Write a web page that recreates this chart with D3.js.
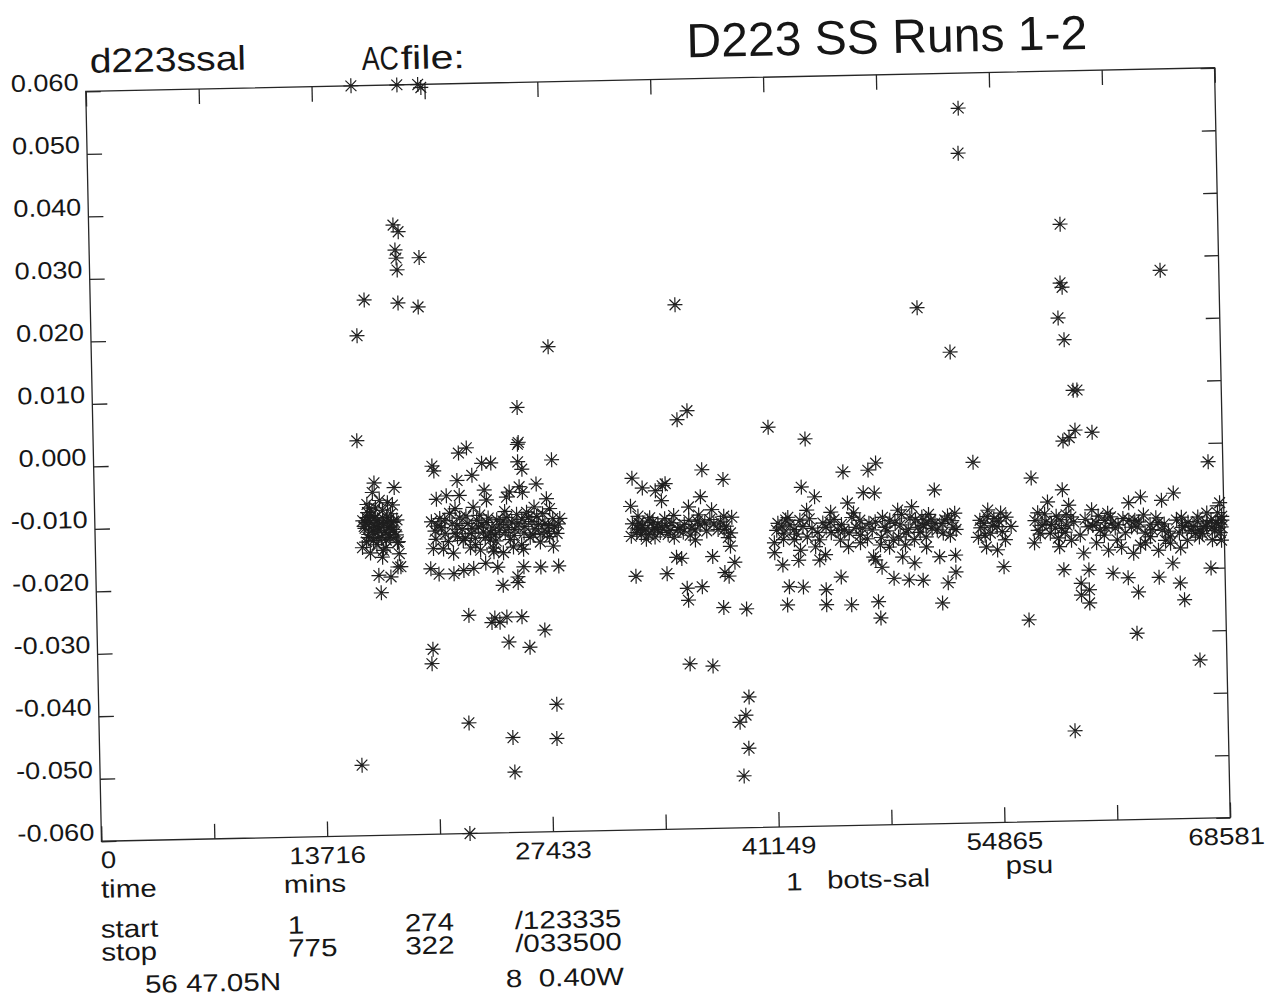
<!DOCTYPE html>
<html>
<head>
<meta charset="utf-8">
<script src="https://cdn.jsdelivr.net/npm/d3@7"></script>
<style>
  html, body { margin: 0; padding: 0; background: #fff; }
  svg { display: block; }
  text { font-family: "Liberation Sans", Arial, Helvetica, sans-serif; fill: #161616; white-space: pre; }
</style>
</head>
<body>
<svg id="chart" width="1282" height="1005"></svg>
<script>
// ---- data: bottle-minus-sensor salinity (psu) against elapsed time (mins) ----
const timeMax = 68581;
const xLabelValues = [0, 13716, 27433, 41149, 54865, 68581];
const yTickValues = [-0.06, -0.05, -0.04, -0.03, -0.02, -0.01, 0, 0.01, 0.02, 0.03, 0.04, 0.05, 0.06];

const burstA = [
  [16110,0.0600],[18900,0.0600],[20170,0.0600],[20350,0.0595],
  [18490,0.0376],[18790,0.0365],[18580,0.0336],[18630,0.0323],[18680,0.0304],[18690,0.0251],
  [20030,0.0323],[19910,0.0244],[16640,0.0257],[16160,0.0200],[16020,0.0032],[15920,-0.0487],
  [17010,-0.0036],[18220,-0.0044],[16890,-0.0051],[17310,-0.0064],[18100,-0.0072],[16700,-0.0076],
  [17490,-0.0080],[16520,-0.0091],[17010,-0.0092],[17740,-0.0091],[18350,-0.0096],[16700,-0.0100],
  [17310,-0.0104],[17920,-0.0107],[16400,-0.0108],[17010,-0.0115],[17620,-0.0116],[18220,-0.0115],
  [16580,-0.0123],[17190,-0.0124],[17920,-0.0124],[18410,-0.0131],[16220,-0.0139],[16700,-0.0148],
  [17490,-0.0144],[18350,-0.0132],[17430,-0.0155],[18350,-0.0171],[17190,-0.0184],[17920,-0.0187],
  [17310,-0.0212],[18530,-0.0171],[16830,-0.0088],[17740,-0.0099],[17130,-0.0107],[18040,-0.0100],
  [16280,-0.0096],[16580,-0.0083],[17190,-0.0096],[17800,-0.0108],[16830,-0.0111],[17490,-0.0092],
  [18100,-0.0111],[16460,-0.0099],[17070,-0.0076],[17680,-0.0128],
  [16350,-0.0105],[16620,-0.0118],[16950,-0.0102],[17250,-0.0113],[17550,-0.0101],[17860,-0.0119],
  [18150,-0.0098],[16480,-0.0130],[16900,-0.0128],[17400,-0.0124],[17980,-0.0086],[16750,-0.0090],
  [17650,-0.0140],[18300,-0.0120],[17100,-0.0135],[16550,-0.0070],[17800,-0.0068],[18450,-0.0150]
];

const burstB = [
  [20650,-0.0019],[22170,0.0009],[22660,0.0017],[23570,-0.0008],[24120,-0.0008],[25760,0.0021],
  [25760,-0.0007],[26000,-0.0019],[27820,-0.0005],[22960,-0.0027],[22050,-0.0035],[23690,-0.0051],
  [25210,-0.0055],[25820,-0.0047],[26850,-0.0043],[20770,-0.0064],[21380,-0.0059],[22170,-0.0059],
  [23810,-0.0067],[25030,-0.0063],[26000,-0.0056],[27460,-0.0067],
  [20960,-0.0095],[21560,-0.0087],[22170,-0.0095],[22660,-0.0104],[23200,-0.0099],[23810,-0.0103],
  [24420,-0.0099],[25030,-0.0096],[25630,-0.0091],[26240,-0.0088],[26850,-0.0095],[27820,-0.0099],
  [28250,-0.0099],[20650,-0.0115],[21260,-0.0120],[21870,-0.0119],[22480,-0.0127],[23080,-0.0128],
  [23690,-0.0127],[24300,-0.0123],[24910,-0.0120],[25510,-0.0115],[26120,-0.0111],[26730,-0.0115],
  [27460,-0.0120],[28060,-0.0123],[20530,-0.0143],[21140,-0.0144],[21750,-0.0151],[22780,-0.0143],
  [23390,-0.0147],[24180,-0.0144],[24780,-0.0152],[25390,-0.0143],[26000,-0.0147],[27030,-0.0136],
  [27820,-0.0143],[20350,-0.0175],[20840,-0.0184],[21750,-0.0184],[22350,-0.0179],[22960,-0.0176],
  [23690,-0.0168],[24420,-0.0175],[25630,-0.0191],[26000,-0.0175],[27030,-0.0176],[28120,-0.0175],
  [24720,-0.0204],[25630,-0.0200],[22600,-0.0251],[24180,-0.0256],[24910,-0.0255],[25820,-0.0255],
  [23990,-0.0263],[24480,-0.0263],
  [20380,-0.0304],[20300,-0.0327],[22470,-0.0423],[25000,-0.0295],[26270,-0.0304],[27200,-0.0277],
  [25120,-0.0448],[25200,-0.0503],[27830,-0.0396],[27790,-0.0451],[22390,-0.0600],[25790,0.0080],
  [27750,0.0176],[25820,0.0024],[20550,-0.0011],
  [21260,-0.0099],[21990,-0.0107],[22900,-0.0112],[23510,-0.0107],[24120,-0.0112],[24600,-0.0107],
  [25330,-0.0103],[25940,-0.0099],[26550,-0.0103],[27210,-0.0091],[27640,-0.0083],[22350,-0.0131],
  [23990,-0.0131],[25210,-0.0131],[26420,-0.0128],[27340,-0.0107],[20840,-0.0107],[23390,-0.0091],
  [24910,-0.0086],
  [20450,-0.0100],[20700,-0.0128],[21050,-0.0110],[21450,-0.0132],[21700,-0.0104],[22000,-0.0125],
  [22300,-0.0113],[22550,-0.0092],[22850,-0.0120],[23100,-0.0138],[23300,-0.0110],[23600,-0.0118],
  [23900,-0.0096],[24050,-0.0120],[24350,-0.0133],[24550,-0.0116],[24800,-0.0101],[25100,-0.0112],
  [25450,-0.0125],[25700,-0.0106],[26050,-0.0121],[26350,-0.0096],[26600,-0.0124],[26950,-0.0108],
  [27150,-0.0122],[27550,-0.0110],[27900,-0.0113],[28150,-0.0108],[24200,-0.0150],[25900,-0.0140],
  [21900,-0.0080],[23000,-0.0078],[26700,-0.0080],[27600,-0.0128]
];

const burstC = [
  [32680,-0.0037],[33290,-0.0053],[34690,-0.0047],[36930,-0.0026],[38210,-0.0042],[32560,-0.0082],
  [34440,-0.0074],[36080,-0.0085],[36810,-0.0069],[33050,-0.0109],[33590,-0.0106],[33960,-0.0117],
  [34690,-0.0114],[35170,-0.0098],[36080,-0.0106],[36690,-0.0098],[37480,-0.0090],[38210,-0.0101],
  [38690,-0.0103],[32560,-0.0130],[33170,-0.0127],[33830,-0.0122],[35170,-0.0133],[35720,-0.0125],
  [36450,-0.0122],[37050,-0.0111],[38210,-0.0122],[38450,-0.0135],[35290,-0.0165],[36450,-0.0138],
  [37480,-0.0165],[38570,-0.0149],[38820,-0.0175],[32800,-0.0194],[34690,-0.0191],[35600,-0.0167],
  [36810,-0.0213],[35960,-0.0234],[38210,-0.0191],[38450,-0.0197],[38090,-0.0247],[39480,-0.0250],
  [32920,-0.0117],[34200,-0.0111],[33410,-0.0119],[34930,-0.0122],[33710,-0.0101],
  [35510,0.0239],[36110,0.0069],[35490,0.0055],[35970,-0.0336],[37360,-0.0340],[38930,-0.0431],
  [39510,-0.0391],[39300,-0.0420],[39440,-0.0473],[39110,-0.0517],[34080,-0.0058],[34510,-0.0050],
  [35900,-0.0215],
  [33110,-0.0119],[34320,-0.0125],[35540,-0.0117],[36140,-0.0130],[37360,-0.0106],[37840,-0.0122],
  [33470,-0.0135],[36750,-0.0114],[34620,-0.0103],
  [32650,-0.0110],[32900,-0.0124],[33250,-0.0113],[33600,-0.0128],[33900,-0.0108],[34150,-0.0120],
  [34450,-0.0116],[34800,-0.0128],[35050,-0.0110],[35400,-0.0121],[35800,-0.0113],[36250,-0.0119],
  [36600,-0.0108],[37150,-0.0124],[37600,-0.0113],[38000,-0.0110],[38350,-0.0117],[38600,-0.0128],
  [33000,-0.0098],[34000,-0.0132]
];

const burstD = [
  [42950,-0.0057],[43740,-0.0073],[45500,-0.0034],[47020,-0.0032],[47500,-0.0021],[51030,-0.0066],
  [41490,-0.0114],[41970,-0.0109],[43250,-0.0094],[44710,-0.0098],[45740,-0.0084],[46710,-0.0068],
  [47380,-0.0069],[48780,-0.0097],[49630,-0.0092],[50240,-0.0109],[50780,-0.0114],[52240,-0.0104],
  [41250,-0.0145],[41850,-0.0130],[42460,-0.0125],[43250,-0.0137],[43740,-0.0153],[44340,-0.0166],
  [44710,-0.0131],[45500,-0.0127],[46230,-0.0123],[47020,-0.0117],[47990,-0.0124],[48470,-0.0145],
  [49260,-0.0134],[49990,-0.0125],[50480,-0.0141],[51030,-0.0119],[52120,-0.0126],
  [41250,-0.0161],[41730,-0.0181],[42700,-0.0174],[43980,-0.0174],[45740,-0.0154],[46470,-0.0148],
  [47260,-0.0171],[48230,-0.0156],[49020,-0.0172],[49750,-0.0182],[50480,-0.0157],[51270,-0.0173],
  [52240,-0.0171],[42100,-0.0216],[42950,-0.0217],[44340,-0.0222],[45260,-0.0202],[47380,-0.0176],
  [47750,-0.0188],[48470,-0.0206],[49390,-0.0209],[50240,-0.0210],[51750,-0.0215],[52240,-0.0198],
  [41970,-0.0245],[44340,-0.0246],[45860,-0.0247],[47500,-0.0243],[47620,-0.0269],[51390,-0.0247],
  [41730,-0.0120],[42460,-0.0141],[44220,-0.0115],[45260,-0.0143],[45980,-0.0107],[47750,-0.0140],
  [49750,-0.0145],[50480,-0.0119],[51510,-0.0135],
  [41010,0.0040],[43240,0.0020],[50210,0.0226],[52160,0.0154],[52960,0.0544],[52900,0.0472],
  [53410,-0.0023],
  [42220,-0.0117],[42830,-0.0110],[43550,-0.0123],[44650,-0.0114],[45130,-0.0127],[46470,-0.0112],
  [47200,-0.0128],[48290,-0.0113],[48900,-0.0121],[49510,-0.0110],[50110,-0.0133],[50840,-0.0127],
  [51630,-0.0114],[51940,-0.0139],[47680,-0.0152],[42830,-0.0158],[46470,-0.0136],[49200,-0.0153],
  [41400,-0.0125],[41800,-0.0140],[42100,-0.0105],[42600,-0.0132],[43000,-0.0120],[43400,-0.0108],
  [43900,-0.0130],[44400,-0.0122],[44900,-0.0110],[45350,-0.0118],[45800,-0.0132],[46100,-0.0100],
  [46600,-0.0125],[46900,-0.0142],[47400,-0.0115],[47850,-0.0108],[48100,-0.0130],[48600,-0.0118],
  [49000,-0.0104],[49400,-0.0128],[49850,-0.0113],[50300,-0.0122],[50650,-0.0105],[51150,-0.0130],
  [51450,-0.0120],[51800,-0.0108],[52050,-0.0116],[52300,-0.0130],[48800,-0.0140],[44000,-0.0142]
];

const burstE = [
  [54250,-0.0100],[55030,-0.0105],[54000,-0.0121],[54790,-0.0127],[54370,-0.0137],[53640,-0.0143],
  [55280,-0.0148],[54120,-0.0159],[54790,-0.0164],[55160,-0.0191],[55640,-0.0127],[53760,-0.0116],
  [54610,-0.0114],[53800,-0.0128],[54200,-0.0110],[54500,-0.0125],[54900,-0.0118],[55350,-0.0112],
  [54050,-0.0140],[55100,-0.0135]
];

const burstF = [
  [56920,-0.0050],[58800,-0.0070],[57890,-0.0089],[59170,-0.0095],[57280,-0.0106],[57770,-0.0121],
  [58560,-0.0118],[59290,-0.0114],[57280,-0.0134],[58010,-0.0139],[58920,-0.0138],[57040,-0.0154],
  [58560,-0.0161],[59290,-0.0151],[58800,-0.0198],[56620,-0.0277],
  [60560,-0.0103],[61530,-0.0109],[62810,-0.0093],[63540,-0.0084],[64810,-0.0090],[65540,-0.0079],
  [67550,-0.0112],[68340,-0.0096],[68400,-0.0156],[60320,-0.0130],[61050,-0.0136],[61780,-0.0125],
  [62570,-0.0141],[63300,-0.0132],[64090,-0.0148],[64810,-0.0138],[65850,-0.0143],[66580,-0.0139],
  [67310,-0.0134],[68090,-0.0128],[68400,-0.0135],[60020,-0.0172],[60810,-0.0156],[61530,-0.0168],
  [62320,-0.0164],[63050,-0.0174],[63780,-0.0158],[64570,-0.0170],[65300,-0.0159],[66330,-0.0155],
  [67060,-0.0150],[67850,-0.0155],[60320,-0.0199],[61780,-0.0205],[62690,-0.0213],[64570,-0.0213],
  [65850,-0.0223],[67730,-0.0200],[63300,-0.0236],[60320,-0.0231],[60320,-0.0252],[66090,-0.0250],
  [63160,-0.0302],[65420,-0.0191],[60810,-0.0124],[62080,-0.0152],[63780,-0.0142],[65300,-0.0149],
  [66820,-0.0144],[68340,-0.0144],[67550,-0.0128],[64570,-0.0126],[62810,-0.0121],
  [59000,0.0355],[58930,0.0261],[59040,0.0254],[58760,0.0205],[59100,0.0170],[59580,0.0089],
  [59820,0.0089],[59650,0.0025],[59280,0.0013],[58900,0.0008],[60680,0.0021],[65020,0.0278],
  [67690,-0.0030],[66950,-0.0347],[59270,-0.0456],[59830,-0.0239],[59830,-0.0220],
  [57530,-0.0126],[58320,-0.0131],[59040,-0.0127],[59830,-0.0143],[61290,-0.0144],[61960,-0.0133],
  [63170,-0.0121],[64090,-0.0129],[65000,-0.0154],[66210,-0.0131],[67120,-0.0139],[67850,-0.0136],
  [68450,-0.0124],[63480,-0.0161],[65910,-0.0167],[61350,-0.0120],[58500,-0.0147],
  [57100,-0.0118],[57400,-0.0140],[57700,-0.0108],[58100,-0.0125],[58400,-0.0112],[58700,-0.0132],
  [59000,-0.0110],[59450,-0.0122],[60150,-0.0118],[60600,-0.0128],[60950,-0.0113],[61400,-0.0132],
  [61700,-0.0115],[62150,-0.0128],[62450,-0.0118],[62950,-0.0132],[63400,-0.0124],[63700,-0.0113],
  [64200,-0.0137],[64450,-0.0118],[64950,-0.0128],[65200,-0.0140],[65700,-0.0122],[66050,-0.0134],
  [66400,-0.0126],[66700,-0.0133],[66950,-0.0125],[67250,-0.0145],[67500,-0.0133],[67800,-0.0124],
  [68000,-0.0140],[68250,-0.0130],[68450,-0.0118],[66000,-0.0118],[67000,-0.0118],[68200,-0.0112]
];

// header / footer annotation text
const plotName = "d223ssal";
const fileLabel = ["AC", "file:"];
const titleText = "D223 SS Runs 1-2";
const axisWords = { time: "time", units: "mins", series: "1", variable: "bots-sal", yUnits: "psu" };
const startRow = ["start", "1", "274", "/123335"];
const stopRow = ["stop", "775", "322", "/033500"];
const latText = "56 47.05N";
const lonText = "8  0.40W";

// ---- layout ----
const W = 1282, H = 1005;
const plot = { left: 93.5, right: 1222.5, top: 79.5, bottom: 829.5 };
const tilt = -1.2; // the sheet sits slightly skewed

const svg = d3.select("#chart");
svg.append("rect").attr("width", W).attr("height", H).attr("fill", "#fff");

const sheet = svg.append("g")
  .attr("transform", `rotate(${tilt} ${(plot.left + plot.right) / 2} ${(plot.top + plot.bottom) / 2})`);

const x = d3.scaleLinear().domain([0, timeMax]).range([plot.left, plot.right]);
const y = d3.scaleLinear().domain([-0.06, 0.06]).range([plot.bottom, plot.top]);

const ink = "#262626";

// frame
sheet.append("rect")
  .attr("x", plot.left).attr("y", plot.top)
  .attr("width", plot.right - plot.left).attr("height", plot.bottom - plot.top)
  .attr("fill", "none").attr("stroke", ink).attr("stroke-width", 1.3);

// inward ticks on all four sides
const xTickValues = d3.range(11).map(i => i * timeMax / 10);
function styleAxis(g) {
  g.select(".domain").remove();
  g.selectAll(".tick line").attr("stroke", ink).attr("stroke-width", 1.3);
  g.selectAll(".tick text").remove();
}
sheet.append("g").attr("transform", `translate(0,${plot.bottom})`)
  .call(d3.axisBottom(x).tickValues(xTickValues).tickSizeInner(-15).tickSizeOuter(0).tickFormat(""))
  .call(styleAxis);
sheet.append("g").attr("transform", `translate(0,${plot.top})`)
  .call(d3.axisTop(x).tickValues(xTickValues).tickSizeInner(-15).tickSizeOuter(0).tickFormat(""))
  .call(styleAxis);
sheet.append("g").attr("transform", `translate(${plot.left},0)`)
  .call(d3.axisLeft(y).tickValues(yTickValues).tickSizeInner(-15).tickSizeOuter(0).tickFormat(""))
  .call(styleAxis);
sheet.append("g").attr("transform", `translate(${plot.right},0)`)
  .call(d3.axisRight(y).tickValues(yTickValues).tickSizeInner(-14).tickSizeOuter(0).tickFormat(""))
  .call(styleAxis);

// text helper: stretched Helvetica-like plotter lettering
function label(parent, px, py, str, size, sx, anchor, len) {
  const t = parent.append("text")
    .attr("transform", `translate(${px},${py}) scale(${sx},1)`)
    .attr("text-anchor", anchor || "start")
    .attr("font-size", size)
    .text(str);
  if (len) t.attr("textLength", len / sx).attr("lengthAdjust", "spacingAndGlyphs");
  return t;
}

// y tick labels
const fmtY = d3.format(".3f");
yTickValues.forEach(v => {
  label(sheet, plot.left - 7, y(v) - 1, fmtY(v).replace("−", "-"), 24, 1.13, "end");
});

// x tick labels
xLabelValues.forEach((v, i) => {
  const anchor = i === 0 ? "start" : "middle";
  const px = i === 0 ? x(v) - 1 : (i === xLabelValues.length - 1 ? x(v) - 4 : x(v));
  label(sheet, px, plot.bottom + 27, String(v), 24, 1.15, anchor);
});

// header
label(sheet, 98, 61, plotName, 34, 1.15, "start");
label(sheet, 370, 64, fileLabel[0], 33, 1, "start", 37);
label(sheet, 409, 64, fileLabel[1], 33, 1.25, "start");
label(sheet, 695, 58, titleText, 48, 1.0, "start", 401);

// footer
const fs = 25, fx = 1.18;
label(sheet, 92, 886, axisWords.time, fs, fx);
label(sheet, 275, 885, axisWords.units, fs, fx);
label(sheet, 777, 893, axisWords.series, fs, fx);
label(sheet, 818, 892, axisWords.variable, fs, fx);
label(sheet, 997, 881, axisWords.yUnits, fs, fx);

const colX = [91, 278, 395, 505];
startRow.forEach((s, i) => label(sheet, colX[i], 926, s, fs, fx));
stopRow.forEach((s, i) => label(sheet, colX[i], 949, s, fs, fx));
label(sheet, 134, 982, latText, fs, fx);
label(sheet, 495, 984, lonText, fs, fx);

// asterisk markers
const arm = 7.5, diag = 5.4;
const star = `M${-arm},0H${arm}M0,${-arm}V${arm}M${-diag},${-diag}L${diag},${diag}M${-diag},${diag}L${diag},${-diag}`;

const allPoints = [].concat(burstA, burstB, burstC, burstD, burstE, burstF);
sheet.append("g")
  .selectAll("path")
  .data(allPoints)
  .join("path")
  .attr("transform", d => `translate(${x(d[0])},${y(d[1])})`)
  .attr("d", star)
  .attr("fill", "none")
  .attr("stroke", "#1e1e1e")
  .attr("stroke-width", 1.2);
</script>
</body>
</html>
